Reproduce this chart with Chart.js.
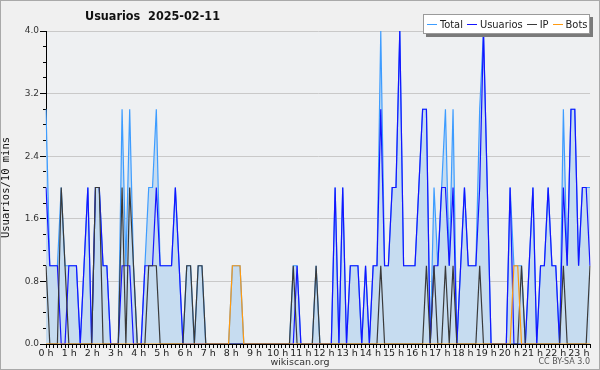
<!DOCTYPE html>
<html>
<head>
<meta charset="utf-8">
<script src="https://cdn.jsdelivr.net/npm/chart.js@4/dist/chart.umd.min.js"></script>
<style>
html, body { margin: 0; padding: 0; background: #f0f0f0; }
#wrap { position: relative; width: 600px; height: 370px; overflow: hidden; }
#frame { position: absolute; left: 0; top: 0; width: 598px; height: 368px; border: 1px solid #a9a9a9; pointer-events: none; }
#title { position: absolute; left: 85px; top: 8px; font: bold 12.5px "DejaVu Sans Condensed", "DejaVu Sans"; color: #111; white-space: pre; }
#legend { position: absolute; left: 423px; top: 14px; height: 18px; padding: 0 2px 0 3px; background: #fff; border: 1px solid #9a9a9a;
  box-shadow: 3px 3px 0 #7a7a7a; display: flex; align-items: center; font: 11px "DejaVu Sans Condensed", "DejaVu Sans"; color: #222; }
#legend span.sw { display: inline-block; width: 10px; height: 0; border-top: 1.5px solid; margin-right: 3px; }
#legend span.tx { margin-right: 4px; }
#legend span.tx:last-child { margin-right: 0; }
#site { position: absolute; left: 0; width: 600px; top: 356px; text-align: center; font: 9.5px "DejaVu Sans"; color: #333; }
#lic { position: absolute; right: 10px; top: 357px; font: 8px "DejaVu Sans"; color: #555; }
</style>
</head>
<body>
<div id="wrap">
  <canvas id="chart" width="600" height="370"></canvas>
  <div id="title">Usuarios  2025-02-11</div>
  <div id="legend"></div>
  <div id="site">wikiscan.org</div>
  <div id="lic">CC BY-SA 3.0</div>
  <div id="frame"></div>
</div>
<script>
// tick labels
const hourLabels = ['0 h','1 h','2 h','3 h','4 h','5 h','6 h','7 h','8 h','9 h','10 h','11 h',
  '12 h','13 h','14 h','15 h','16 h','17 h','18 h','19 h','20 h','21 h','22 h','23 h'];
const minuteLabels = ['00','10','20','30','40','50'];
const yTicks = [0, 0.8, 1.6, 2.4, 3.2, 4.0];

// one value per 10 minutes, one row of 6 per hour
const usuarios = [
  2,1,1,1,0,0,  1,1,1,0,1,2,  0,2,2,1,1,0,  0,0,1,1,1,0,  0,0,1,1,1,2,  1,1,1,1,2,1,
  0,0,0,0,0,0,  0,0,0,0,0,0,  0,0,0,0,0,0,  0,0,0,0,0,0,  0,0,0,0,0,0,  1,0,0,0,0,0,
  0,0,0,0,2,0,  2,0,1,1,1,0,  1,0,1,1,3,1,  1,2,2,4,1,1,  1,1,2,3,3,0,  1,1,2,2,1,2,
  0,1,2,1,1,1,  2,4,2,0,0,0,  0,0,2,0,0,0,  0,1,2,0,1,1,  2,1,1,0,2,1,  3,3,1,2,2,1
];
const ip = [
  1,0,0,0,2,1,  0,0,0,0,0,0,  0,2,2,0,0,0,  0,0,2,0,2,1,  0,0,0,1,1,1,  0,0,0,0,0,0,
  0,1,1,0,1,1,  0,0,0,0,0,0,  0,0,0,0,0,0,  0,0,0,0,0,0,  0,0,0,0,0,1,  0,0,0,0,0,1,
  0,0,0,0,0,0,  0,0,0,0,0,0,  0,0,0,0,1,0,  0,0,0,0,0,0,  0,0,0,0,1,0,  1,0,0,1,0,1,
  0,0,0,0,0,0,  1,0,0,0,0,0,  0,0,0,0,0,1,  0,0,0,0,0,0,  0,0,0,0,1,0,  0,0,0,0,0,1
];
const bots = [
  0,0,0,0,0,0,  0,0,0,0,0,0,  0,0,0,0,0,0,  0,0,0,0,0,0,  0,0,0,0,0,0,  0,0,0,0,0,0,
  0,0,0,0,0,0,  0,0,0,0,0,0,  0,1,1,1,0,0,  0,0,0,0,0,0,  0,0,0,0,0,0,  0,0,0,0,0,0,
  0,0,0,0,0,0,  0,0,0,0,0,0,  0,0,0,0,0,0,  0,0,0,0,0,0,  0,0,0,0,0,0,  0,0,0,0,0,0,
  0,0,0,0,0,0,  0,0,0,0,0,0,  0,0,0,1,1,0,  0,0,0,0,0,0,  0,0,0,0,0,0,  0,0,0,0,0,0
];
const total = [
  3,1,1,1,2,1,  1,1,1,0,1,2,  0,2,2,1,1,0,  0,0,3,1,3,1,  0,0,1,2,2,3,  1,1,1,1,2,1,
  0,1,1,0,1,1,  0,0,0,0,0,0,  0,1,1,1,0,0,  0,0,0,0,0,0,  0,0,0,0,0,1,  1,0,0,0,0,1,
  0,0,0,0,2,0,  2,0,1,1,1,0,  1,0,1,1,4,1,  1,2,2,4,1,1,  1,1,2,3,3,0,  2,1,2,3,1,3,
  0,1,2,1,1,1,  3,4,2,0,0,0,  0,0,2,1,1,1,  0,1,2,0,1,1,  2,1,1,0,3,1,  3,3,1,2,2,2
];

const slots = hourLabels.flatMap(h => minuteLabels.map(m => h.replace(' h', '') + ':' + m));

const series = [
  { label: 'Total', data: total, color: '#3d9cff' },
  { label: 'Usuarios', data: usuarios, color: '#1414ff' },
  { label: 'IP', data: ip, color: '#3a3a3a' },
  { label: 'Bots', data: bots, color: '#ff9a10' }
];

// html legend
const legendBox = document.getElementById('legend');
series.forEach(s => {
  legendBox.insertAdjacentHTML('beforeend',
    `<span class="sw" style="border-color:${s.color}"></span><span class="tx">${s.label}</span>`);
});

const plotBg = {
  id: 'plotBg',
  beforeDraw(chart) {
    const a = chart.chartArea, c = chart.ctx;
    c.save();
    c.fillStyle = '#eef0f2';
    c.fillRect(a.left, a.top, a.right - a.left, a.bottom - a.top);
    c.restore();
  }
};

new Chart(document.getElementById('chart'), {
  type: 'line',
  data: {
    labels: slots,
    datasets: series.map((s, i) => ({
      label: s.label,
      data: s.data,
      borderColor: s.color,
      borderWidth: 1.2,
      pointRadius: 0,
      tension: 0,
      fill: i === 0 ? 'origin' : false,
      backgroundColor: i === 0 ? '#c6dcf0' : s.color,
      order: series.length - i
    }))
  },
  options: {
    responsive: false,
    animation: false,
    events: [],
    layout: { padding: { top: 31, right: 10, left: 0, bottom: 10 } },
    plugins: { legend: { display: false }, tooltip: { enabled: false } },
    scales: {
      x: {
        position: 'bottom', weight: 0,
        ticks: { display: false },
        grid: { drawOnChartArea: false, tickLength: 4, tickColor: '#000' },
        border: { color: '#000', width: 1 },
        afterFit(s) { s.height = 4; }
      },
      hours: {
        type: 'linear', position: 'bottom', weight: 1,
        min: 0, max: 23.48,
        grid: { display: false, drawTicks: false },
        border: { display: false },
        ticks: {
          stepSize: 1, includeBounds: false, autoSkip: false, maxRotation: 0, padding: 0,
          font: { family: 'DejaVu Sans', size: 9.5 }, color: '#222',
          callback: v => hourLabels[v] ?? ''
        },
        afterFit(s) { s.height = 12; }
      },
      y: {
        position: 'left', weight: 1,
        min: 0, max: 4,
        afterBuildTicks(s) { s.ticks = yTicks.map(v => ({ value: v })); },
        ticks: { font: { family: 'DejaVu Sans', size: 9 }, color: '#333', padding: 1,
          callback: v => v.toFixed(1) },
        grid: { color: '#c9c9c9', tickColor: '#000', tickLength: 6, lineWidth: 1 },
        border: { color: '#000', width: 1 },
        title: { display: true, text: 'Usuarios/10 mins', padding: { top: 0, bottom: 4 },
          font: { family: 'DejaVu Sans Mono', size: 10.5 }, color: '#111' },
        afterFit(s) { s.width = 46; }
      },
      yMinor: {
        position: 'left', weight: 0,
        min: 0, max: 4,
        ticks: { display: false, stepSize: 0.2 },
        grid: { drawOnChartArea: false, tickColor: '#000', tickLength: 3 },
        border: { display: false },
        afterFit(s) { s.width = 0; }
      }
    }
  },
  plugins: [plotBg]
});
</script>
</body>
</html>
